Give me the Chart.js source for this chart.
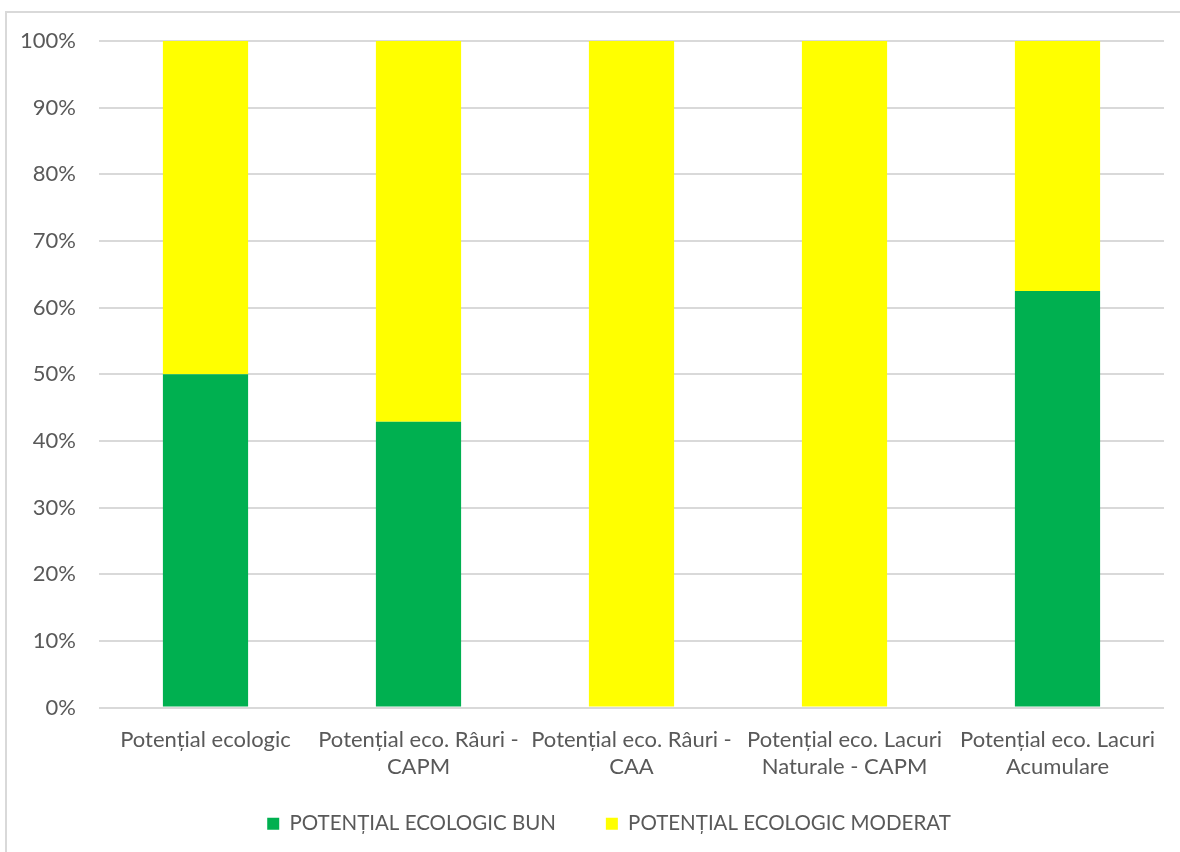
<!DOCTYPE html>
<html>
<head>
<meta charset="utf-8">
<script src="https://cdn.jsdelivr.net/npm/chart.js@4/dist/chart.umd.min.js"></script>
<style>
  html, body { margin: 0; padding: 0; background: #fff; overflow: hidden; }
  #frame { position: absolute; left: 5px; top: 11px; width: 1300px; height: 1000px; border: 2px solid #d9d9d9; box-sizing: border-box; }
  #wrap { position: absolute; left: 0; top: 0; width: 1180px; height: 852px; }
</style>
</head>
<body>
<div id="frame"></div>
<div id="wrap"><canvas id="c"></canvas></div>
<script>
const categories = [
  ["Potențial ecologic"],
  ["Potențial eco. Râuri -", "CAPM"],
  ["Potențial eco. Râuri -", "CAA"],
  ["Potențial eco. Lacuri", "Naturale - CAPM"],
  ["Potențial eco. Lacuri", "Acumulare"]
];
const seriesNames = ["POTENȚIAL ECOLOGIC BUN", "POTENȚIAL ECOLOGIC MODERAT"];
const bunValues = [50, 42.86, 0, 0, 62.5];
const moderatValues = [50, 57.14, 100, 100, 37.5];
const yTicks = [0, 10, 20, 30, 40, 50, 60, 70, 80, 90, 100];

const FONT = "Lato, 'Open Sans', sans-serif";
const TXT = "#595959";

const layoutTweaks = {
  id: 'layoutTweaks',
  afterLayout(chart) {
    // let the two-line category labels run below the axis box without clipping
    if (chart.scales.x) chart.scales.x._computeLabelArea = function () { return undefined; };
    // shift legend slightly to the right, as in the reference
    if (chart.legend) { chart.legend.left += 27; chart.legend.right += 27; }
  }
};

new Chart(document.getElementById('c'), {
  type: 'bar',
  data: {
    labels: categories,
    datasets: [
      { label: seriesNames[0], data: bunValues, backgroundColor: '#00B050', borderWidth: 0 },
      { label: seriesNames[1], data: moderatValues, backgroundColor: '#FFFF00', borderWidth: 0 }
    ]
  },
  plugins: [layoutTweaks],
  options: {
    responsive: true,
    maintainAspectRatio: false,
    animation: false,
    datasets: { bar: { categoryPercentage: 1.0, barPercentage: 0.4 } },
    layout: { padding: { left: 0, right: 16, top: 41, bottom: 8 } },
    plugins: {
      tooltip: { enabled: false },
      legend: {
        position: 'bottom',
        labels: {
          font: { family: FONT, size: 20.5 },
          color: TXT,
          boxWidth: 12,
          boxHeight: 12,
          padding: 50
        }
      }
    },
    scales: {
      x: {
        stacked: true,
        grid: { display: false, drawTicks: false },
        border: { display: false },
        ticks: {
          font: { family: FONT, size: 22, lineHeight: 1.23 },
          color: TXT,
          padding: 19,
          maxRotation: 0,
          autoSkip: false
        },
        afterFit: (s) => { s.height = 56; }
      },
      y: {
        stacked: true,
        min: 0,
        max: 100,
        afterBuildTicks: (s) => { s.ticks = yTicks.map(v => ({ value: v })); },
        grid: { color: '#d9d9d9', lineWidth: 2, drawTicks: false },
        border: { display: false },
        ticks: {
          font: { family: FONT, size: 22 },
          color: TXT,
          padding: 23,
          callback: (v) => v + '%'
        },
        afterFit: (s) => { s.width = 99; }
      }
    }
  }
});
</script>
</body>
</html>
